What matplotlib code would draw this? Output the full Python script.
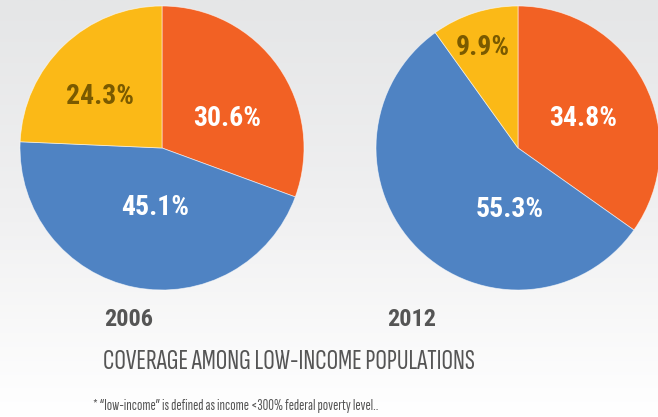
import matplotlib
matplotlib.use("Agg")
import matplotlib.pyplot as plt
import numpy as np
from matplotlib.colors import LinearSegmentedColormap

# ---- data ----
years = ["2006", "2012"]
categories = ["Orange", "Blue", "Yellow"]
values_2006 = [30.6, 45.1, 24.3]
values_2012 = [34.8, 55.3, 9.9]
title = "COVERAGE AMONG LOW-INCOME POPULATIONS"
footnote = "* \u201clow-income\u201d is defined as income <300% federal poverty level.."

# ---- style ----
colors = ["#F26124", "#4F83C3", "#FBB917"]
label_colors = ["white", "white", "#7A5A00"]
label_offsets = [
    [(0.46, 0.21), (-0.05, -0.42), (-0.44, 0.36)],
    [(0.46, 0.21), (-0.06, -0.43), (-0.25, 0.71)],
]
FONT = ["Roboto Condensed", "DejaVu Sans"]
LIGHT = ["Sofia Sans Extra Condensed", "Roboto Condensed", "DejaVu Sans"]

W, H = 658, 417
fig = plt.figure(figsize=(W / 100, H / 100), dpi=100)
renderer = fig.canvas.get_renderer()


def fit_width(t, target_px):
    w = t.get_window_extent(renderer=renderer).width
    t.set_fontsize(t.get_fontsize() * target_px / w)


# gradient background
bg = fig.add_axes([0, 0, 1, 1])
bg.set_axis_off()
cmap = LinearSegmentedColormap.from_list("bg", ["#e5e6e7", "#f0f0f1", "#ffffff"])
grad = np.linspace(0, 1, 256).reshape(-1, 1)
bg.imshow(grad, aspect="auto", cmap=cmap, extent=[0, 1, 0, 1], origin="upper")
bg.set_xlim(0, 1)
bg.set_ylim(0, 1)

R = 142
centers = [(162, 148), (518, 148)]
year_pos = [(129, 320), (412, 320)]
for i, vals in enumerate([values_2006, values_2012]):
    cx, cy = centers[i]
    ax = fig.add_axes([(cx - R) / W, (H - cy - R) / H, 2 * R / W, 2 * R / H])
    wedges, _ = ax.pie(vals, colors=colors, startangle=90, counterclock=False,
                       radius=1, wedgeprops=dict(linewidth=0.6, edgecolor=(1, 1, 1, 0.6)))
    ax.set_xlim(-1, 1)
    ax.set_ylim(-1, 1)
    ax.set_aspect("equal")
    ax.set_axis_off()
    for j, v in enumerate(vals):
        ox, oy = label_offsets[i][j]
        ax.text(ox, oy, f"{v:.1f}%", ha="center", va="center", color=label_colors[j],
                fontsize=20, fontweight="bold", family=FONT)
    fig.text(year_pos[i][0] / W, 1 - year_pos[i][1] / H, years[i], ha="center", va="center",
             fontsize=17.5, fontweight="bold", color="#555555", family=FONT)

t1 = fig.text(289 / W, 1 - 362 / H, title, ha="center", va="center", fontsize=17,
              color="#555555", family=LIGHT, fontweight=300)
fit_width(t1, 372)
t2 = fig.text(236 / W, 1 - 406 / H, footnote, ha="center", va="center", fontsize=10,
              color="#555555", family=LIGHT, fontweight=300)
fit_width(t2, 282)

fig.savefig("out.png", dpi=100)
